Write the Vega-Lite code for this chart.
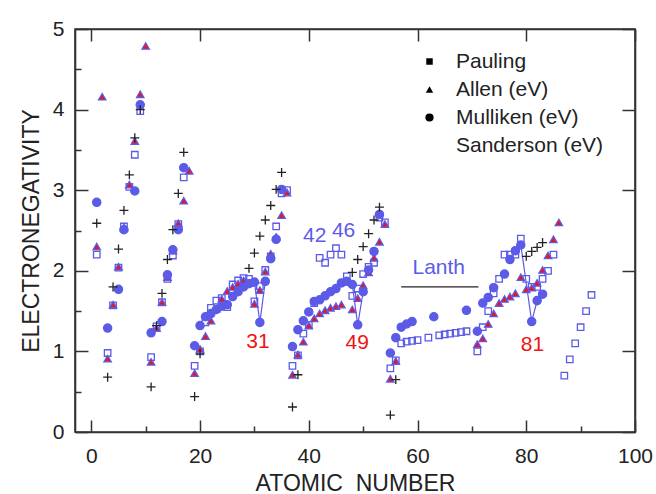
{
  "$schema": "https://vega.github.io/schema/vega-lite/v6.json",
  "width": 560,
  "height": 403,
  "autosize": {"type": "none"},
  "padding": {"left": 75, "top": 29, "right": 21, "bottom": 62},
  "background": "white",
  "config": {
    "font": "Liberation Sans",
    "style": {"cell": {"stroke": "#333", "strokeWidth": 1.6}},
    "axis": {"grid": false, "tickColor": "#333", "tickWidth": 1.5, "domainColor": "#333", "domainWidth": 1.6, "labelColor": "#222", "titleColor": "#222", "titleFontWeight": "normal", "labelFontSize": 21, "titleFontSize": 23, "labelFlush": false},
    "legend": {"labelFontSize": 21, "labelColor": "#222"}
  },
  "datasets": {
    "pts": [
      {"m":"Pauling","z":1,"v":2.2},{"m":"Pauling","z":3,"v":0.98},{"m":"Pauling","z":4,"v":1.57},{"m":"Pauling","z":5,"v":2.04},{"m":"Pauling","z":6,"v":2.55},{"m":"Pauling","z":7,"v":3.04},{"m":"Pauling","z":8,"v":3.44},{"m":"Pauling","z":9,"v":3.98},
      {"m":"Pauling","z":11,"v":0.93},{"m":"Pauling","z":12,"v":1.31},{"m":"Pauling","z":13,"v":1.61},{"m":"Pauling","z":14,"v":1.9},{"m":"Pauling","z":15,"v":2.19},{"m":"Pauling","z":16,"v":2.58},{"m":"Pauling","z":17,"v":3.16},
      {"m":"Pauling","z":19,"v":0.82},{"m":"Pauling","z":20,"v":1.0},{"m":"Pauling","z":21,"v":1.36},{"m":"Pauling","z":22,"v":1.54},{"m":"Pauling","z":23,"v":1.63},{"m":"Pauling","z":24,"v":1.66},{"m":"Pauling","z":25,"v":1.55},{"m":"Pauling","z":26,"v":1.83},{"m":"Pauling","z":27,"v":1.88},{"m":"Pauling","z":28,"v":1.91},{"m":"Pauling","z":29,"v":1.9},{"m":"Pauling","z":30,"v":1.62},{"m":"Pauling","z":31,"v":1.81},{"m":"Pauling","z":32,"v":2.01},{"m":"Pauling","z":33,"v":2.18},{"m":"Pauling","z":34,"v":2.55},{"m":"Pauling","z":35,"v":2.96},{"m":"Pauling","z":36,"v":3.0},
      {"m":"Pauling","z":37,"v":0.82},{"m":"Pauling","z":38,"v":0.95},{"m":"Pauling","z":39,"v":1.22},{"m":"Pauling","z":40,"v":1.33},{"m":"Pauling","z":41,"v":1.6},{"m":"Pauling","z":42,"v":2.16},{"m":"Pauling","z":43,"v":2.1},{"m":"Pauling","z":44,"v":2.2},{"m":"Pauling","z":45,"v":2.28},{"m":"Pauling","z":46,"v":2.2},{"m":"Pauling","z":47,"v":1.93},{"m":"Pauling","z":48,"v":1.69},{"m":"Pauling","z":49,"v":1.78},{"m":"Pauling","z":50,"v":1.96},{"m":"Pauling","z":51,"v":2.05},{"m":"Pauling","z":52,"v":2.1},{"m":"Pauling","z":53,"v":2.66},{"m":"Pauling","z":54,"v":2.6},
      {"m":"Pauling","z":55,"v":0.79},{"m":"Pauling","z":56,"v":0.89},{"m":"Pauling","z":57,"v":1.1},{"m":"Pauling","z":58,"v":1.12},{"m":"Pauling","z":59,"v":1.13},{"m":"Pauling","z":60,"v":1.14},{"m":"Pauling","z":62,"v":1.17},{"m":"Pauling","z":64,"v":1.2},{"m":"Pauling","z":65,"v":1.21},{"m":"Pauling","z":66,"v":1.22},{"m":"Pauling","z":67,"v":1.23},{"m":"Pauling","z":68,"v":1.24},{"m":"Pauling","z":69,"v":1.25},{"m":"Pauling","z":71,"v":1.0},{"m":"Pauling","z":72,"v":1.3},{"m":"Pauling","z":73,"v":1.5},{"m":"Pauling","z":74,"v":1.72},{"m":"Pauling","z":75,"v":1.9},{"m":"Pauling","z":76,"v":2.2},{"m":"Pauling","z":77,"v":2.2},{"m":"Pauling","z":78,"v":2.2},{"m":"Pauling","z":79,"v":2.4},{"m":"Pauling","z":80,"v":1.9},{"m":"Pauling","z":81,"v":1.8},{"m":"Pauling","z":82,"v":1.8},{"m":"Pauling","z":83,"v":1.9},{"m":"Pauling","z":84,"v":2.0},{"m":"Pauling","z":85,"v":2.2},
      {"m":"Pauling","z":87,"v":0.7},{"m":"Pauling","z":88,"v":0.9},{"m":"Pauling","z":89,"v":1.1},{"m":"Pauling","z":90,"v":1.3},{"m":"Pauling","z":91,"v":1.5},{"m":"Pauling","z":92,"v":1.7},

      {"m":"Allen (eV)","z":1,"v":2.3},{"m":"Allen (eV)","z":2,"v":4.16},{"m":"Allen (eV)","z":3,"v":0.91},{"m":"Allen (eV)","z":4,"v":1.58},{"m":"Allen (eV)","z":5,"v":2.05},{"m":"Allen (eV)","z":6,"v":2.54},{"m":"Allen (eV)","z":7,"v":3.07},{"m":"Allen (eV)","z":8,"v":3.61},{"m":"Allen (eV)","z":9,"v":4.19},{"m":"Allen (eV)","z":10,"v":4.79},
      {"m":"Allen (eV)","z":11,"v":0.87},{"m":"Allen (eV)","z":12,"v":1.29},{"m":"Allen (eV)","z":13,"v":1.61},{"m":"Allen (eV)","z":14,"v":1.92},{"m":"Allen (eV)","z":15,"v":2.25},{"m":"Allen (eV)","z":16,"v":2.59},{"m":"Allen (eV)","z":17,"v":2.87},{"m":"Allen (eV)","z":18,"v":3.24},
      {"m":"Allen (eV)","z":19,"v":0.73},{"m":"Allen (eV)","z":20,"v":1.03},{"m":"Allen (eV)","z":21,"v":1.19},{"m":"Allen (eV)","z":22,"v":1.38},{"m":"Allen (eV)","z":23,"v":1.53},{"m":"Allen (eV)","z":24,"v":1.65},{"m":"Allen (eV)","z":25,"v":1.75},{"m":"Allen (eV)","z":26,"v":1.8},{"m":"Allen (eV)","z":27,"v":1.84},{"m":"Allen (eV)","z":28,"v":1.88},{"m":"Allen (eV)","z":29,"v":1.85},{"m":"Allen (eV)","z":30,"v":1.59},{"m":"Allen (eV)","z":31,"v":1.76},{"m":"Allen (eV)","z":32,"v":1.99},{"m":"Allen (eV)","z":33,"v":2.21},{"m":"Allen (eV)","z":34,"v":2.42},{"m":"Allen (eV)","z":35,"v":2.69},{"m":"Allen (eV)","z":36,"v":2.97},
      {"m":"Allen (eV)","z":37,"v":0.71},{"m":"Allen (eV)","z":38,"v":0.96},{"m":"Allen (eV)","z":39,"v":1.12},{"m":"Allen (eV)","z":40,"v":1.32},{"m":"Allen (eV)","z":41,"v":1.41},{"m":"Allen (eV)","z":42,"v":1.47},{"m":"Allen (eV)","z":43,"v":1.51},{"m":"Allen (eV)","z":44,"v":1.54},{"m":"Allen (eV)","z":45,"v":1.56},{"m":"Allen (eV)","z":46,"v":1.58},{"m":"Allen (eV)","z":47,"v":1.87},{"m":"Allen (eV)","z":48,"v":1.52},{"m":"Allen (eV)","z":49,"v":1.66},{"m":"Allen (eV)","z":50,"v":1.82},{"m":"Allen (eV)","z":51,"v":1.98},{"m":"Allen (eV)","z":52,"v":2.16},{"m":"Allen (eV)","z":53,"v":2.36},{"m":"Allen (eV)","z":54,"v":2.58},
      {"m":"Allen (eV)","z":55,"v":0.66},{"m":"Allen (eV)","z":56,"v":0.88},{"m":"Allen (eV)","z":71,"v":1.09},{"m":"Allen (eV)","z":72,"v":1.16},{"m":"Allen (eV)","z":73,"v":1.34},{"m":"Allen (eV)","z":74,"v":1.47},{"m":"Allen (eV)","z":75,"v":1.6},{"m":"Allen (eV)","z":76,"v":1.65},{"m":"Allen (eV)","z":77,"v":1.68},{"m":"Allen (eV)","z":78,"v":1.72},{"m":"Allen (eV)","z":79,"v":1.92},{"m":"Allen (eV)","z":80,"v":1.77},{"m":"Allen (eV)","z":81,"v":1.79},{"m":"Allen (eV)","z":82,"v":1.85},{"m":"Allen (eV)","z":83,"v":2.01},{"m":"Allen (eV)","z":84,"v":2.19},{"m":"Allen (eV)","z":85,"v":2.39},{"m":"Allen (eV)","z":86,"v":2.6},

      {"m":"Mulliken (eV)","z":1,"v":2.85},{"m":"Mulliken (eV)","z":3,"v":1.29},{"m":"Mulliken (eV)","z":5,"v":1.77},{"m":"Mulliken (eV)","z":6,"v":2.51},{"m":"Mulliken (eV)","z":8,"v":2.99},{"m":"Mulliken (eV)","z":9,"v":4.06},
      {"m":"Mulliken (eV)","z":11,"v":1.23},{"m":"Mulliken (eV)","z":13,"v":1.37},{"m":"Mulliken (eV)","z":14,"v":1.95},{"m":"Mulliken (eV)","z":15,"v":2.26},{"m":"Mulliken (eV)","z":16,"v":2.51},{"m":"Mulliken (eV)","z":17,"v":3.28},
      {"m":"Mulliken (eV)","z":19,"v":1.07},{"m":"Mulliken (eV)","z":20,"v":1.32},{"m":"Mulliken (eV)","z":21,"v":1.43},{"m":"Mulliken (eV)","z":22,"v":1.47},{"m":"Mulliken (eV)","z":23,"v":1.52},{"m":"Mulliken (eV)","z":24,"v":1.56},{"m":"Mulliken (eV)","z":25,"v":1.58},{"m":"Mulliken (eV)","z":26,"v":1.68},{"m":"Mulliken (eV)","z":27,"v":1.74},{"m":"Mulliken (eV)","z":28,"v":1.8},{"m":"Mulliken (eV)","z":29,"v":1.84},{"m":"Mulliken (eV)","z":30,"v":1.86},{"m":"Mulliken (eV)","z":31,"v":1.36},{"m":"Mulliken (eV)","z":32,"v":1.87},{"m":"Mulliken (eV)","z":33,"v":2.15},{"m":"Mulliken (eV)","z":34,"v":2.39},{"m":"Mulliken (eV)","z":35,"v":3.01},
      {"m":"Mulliken (eV)","z":37,"v":1.06},{"m":"Mulliken (eV)","z":38,"v":1.27},{"m":"Mulliken (eV)","z":39,"v":1.38},{"m":"Mulliken (eV)","z":40,"v":1.49},{"m":"Mulliken (eV)","z":41,"v":1.62},{"m":"Mulliken (eV)","z":42,"v":1.64},{"m":"Mulliken (eV)","z":43,"v":1.69},{"m":"Mulliken (eV)","z":44,"v":1.74},{"m":"Mulliken (eV)","z":45,"v":1.78},{"m":"Mulliken (eV)","z":46,"v":1.85},{"m":"Mulliken (eV)","z":47,"v":1.87},{"m":"Mulliken (eV)","z":48,"v":1.83},{"m":"Mulliken (eV)","z":49,"v":1.33},{"m":"Mulliken (eV)","z":50,"v":1.74},{"m":"Mulliken (eV)","z":51,"v":2.01},{"m":"Mulliken (eV)","z":52,"v":2.24},{"m":"Mulliken (eV)","z":53,"v":2.7},
      {"m":"Mulliken (eV)","z":55,"v":0.98},{"m":"Mulliken (eV)","z":56,"v":1.17},{"m":"Mulliken (eV)","z":57,"v":1.3},{"m":"Mulliken (eV)","z":58,"v":1.34},{"m":"Mulliken (eV)","z":59,"v":1.37},{"m":"Mulliken (eV)","z":63,"v":1.43},{"m":"Mulliken (eV)","z":69,"v":1.51},{"m":"Mulliken (eV)","z":71,"v":1.25},{"m":"Mulliken (eV)","z":72,"v":1.6},{"m":"Mulliken (eV)","z":73,"v":1.67},{"m":"Mulliken (eV)","z":74,"v":1.79},{"m":"Mulliken (eV)","z":76,"v":1.96},{"m":"Mulliken (eV)","z":77,"v":2.14},{"m":"Mulliken (eV)","z":78,"v":2.25},{"m":"Mulliken (eV)","z":79,"v":2.32},{"m":"Mulliken (eV)","z":81,"v":1.37},{"m":"Mulliken (eV)","z":82,"v":1.63},{"m":"Mulliken (eV)","z":83,"v":1.71},

      {"m":"Sanderson (eV)","z":1,"v":2.59},{"m":"Sanderson (eV)","z":3,"v":0.68},{"m":"Sanderson (eV)","z":4,"v":1.8},{"m":"Sanderson (eV)","z":5,"v":2.27},{"m":"Sanderson (eV)","z":6,"v":2.75},{"m":"Sanderson (eV)","z":7,"v":3.19},{"m":"Sanderson (eV)","z":8,"v":3.65},{"m":"Sanderson (eV)","z":9,"v":4.0},
      {"m":"Sanderson (eV)","z":11,"v":0.56},{"m":"Sanderson (eV)","z":12,"v":1.32},{"m":"Sanderson (eV)","z":13,"v":1.72},{"m":"Sanderson (eV)","z":14,"v":2.14},{"m":"Sanderson (eV)","z":15,"v":2.51},{"m":"Sanderson (eV)","z":16,"v":2.96},{"m":"Sanderson (eV)","z":17,"v":3.47},
      {"m":"Sanderson (eV)","z":19,"v":0.44},{"m":"Sanderson (eV)","z":20,"v":0.97},{"m":"Sanderson (eV)","z":29,"v":2.03},{"m":"Sanderson (eV)","z":30,"v":2.22},{"m":"Sanderson (eV)","z":31,"v":2.43},{"m":"Sanderson (eV)","z":32,"v":2.63},{"m":"Sanderson (eV)","z":33,"v":2.81},{"m":"Sanderson (eV)","z":34,"v":3.01},{"m":"Sanderson (eV)","z":35,"v":3.22},
      {"m":"Sanderson (eV)","z":37,"v":0.31},{"m":"Sanderson (eV)","z":38,"v":0.71},{"m":"Sanderson (eV)","z":48,"v":1.98},{"m":"Sanderson (eV)","z":49,"v":2.14},{"m":"Sanderson (eV)","z":50,"v":2.3},{"m":"Sanderson (eV)","z":51,"v":2.46},{"m":"Sanderson (eV)","z":52,"v":2.63},{"m":"Sanderson (eV)","z":53,"v":2.79},
      {"m":"Sanderson (eV)","z":55,"v":0.21},{"m":"Sanderson (eV)","z":56,"v":0.65},{"m":"Sanderson (eV)","z":80,"v":2.18},{"m":"Sanderson (eV)","z":81,"v":2.24},{"m":"Sanderson (eV)","z":82,"v":2.29},{"m":"Sanderson (eV)","z":83,"v":2.35}
    ],
    "links": [
      {"g":"a","z":30,"v":1.86},{"g":"a","z":31,"v":1.36},{"g":"a","z":32,"v":1.87},
      {"g":"b","z":48,"v":1.83},{"g":"b","z":49,"v":1.33},{"g":"b","z":50,"v":1.74},
      {"g":"c","z":79,"v":2.32},{"g":"c","z":81,"v":1.37},{"g":"c","z":82,"v":1.63},
      {"g":"lanth","z":57,"v":1.8},{"g":"lanth","z":71.2,"v":1.8}
    ],
    "notes": [
      {"k":"gas","t":"He","z":3.3,"v":4.38},{"k":"gas","t":"Ne","z":15.0,"v":4.75},{"k":"gas","t":"Ar","z":21.9,"v":3.21},{"k":"gas","t":"Kr","z":40.2,"v":2.95},{"k":"gas","t":"Xe","z":58.6,"v":2.61},{"k":"gas","t":"Rn","z":90.6,"v":2.64},
      {"k":"dip","t":"31","z":30.65,"v":1.12},{"k":"dip","t":"49","z":48.9,"v":1.1},{"k":"dip","t":"81","z":81.15,"v":1.08},
      {"k":"note","t":"42","z":41.1,"v":2.43},{"k":"note","t":"46","z":46.4,"v":2.5},{"k":"note","t":"Lanth","z":63.9,"v":2.04}
    ]
  },
  "resolve": {"axis": {"x": "independent", "y": "independent"}},
  "layer": [
    {
      "data": {"name": "links"},
      "mark": {"type": "line"},
      "encoding": {
        "x": {"field": "z", "type": "quantitative", "scale": {"domain": [-3, 100], "nice": false, "zero": false},
              "axis": {"orient": "bottom", "domain": false, "values": [10, 30, 50, 70, 90], "tickSize": -6, "labels": false, "title": null}},
        "y": {"field": "v", "type": "quantitative", "scale": {"domain": [0, 5], "nice": false, "zero": false},
              "axis": {"orient": "left", "domain": false, "values": [0.5, 1.5, 2.5, 3.5, 4.5], "tickSize": -6, "labels": false, "title": null}},
        "detail": {"field": "g"},
        "stroke": {"field": "g", "type": "nominal", "legend": null,
                   "scale": {"domain": ["a", "b", "c", "lanth"], "range": ["#5b5be8", "#5b5be8", "#5b5be8", "#222222"]}},
        "strokeWidth": {"field": "g", "type": "nominal", "legend": null,
                        "scale": {"domain": ["a", "b", "c", "lanth"], "range": [1.2, 1.2, 1.2, 2]}}
      }
    },
    {
      "data": {"name": "pts"},
      "mark": {"type": "point", "strokeWidth": 1.3, "opacity": 1},
      "encoding": {
        "x": {"field": "z", "type": "quantitative",
              "axis": {"orient": "bottom", "values": [0, 20, 40, 60, 80, 100], "tickSize": -12, "labelPadding": 25, "title": "ATOMIC\u00a0 NUMBER", "titlePadding": 6}},
        "y": {"field": "v", "type": "quantitative",
              "axis": {"orient": "left", "values": [0, 1, 2, 3, 4, 5], "tickSize": -13, "labelPadding": 24, "title": "ELECTRONEGATIVITY", "titlePadding": 9}},
        "shape": {"field": "m", "type": "nominal", "sort": null,
                  "scale": {"domain": ["Pauling", "Allen (eV)", "Mulliken (eV)", "Sanderson (eV)"], "range": ["square", "triangle-up", "circle", "M-1,0H1M0,-1V1"]},
                  "legend": {"title": null, "orient": "none", "legendX": 344, "legendY": 22, "rowPadding": 6, "labelOffset": 16, "padding": 0}},
        "fill": {"field": "m", "type": "nominal", "sort": null,
                 "scale": {"domain": ["Pauling", "Allen (eV)", "Mulliken (eV)", "Sanderson (eV)"], "range": ["transparent", "#ee1414", "#5b5be8", "transparent"]}},
        "stroke": {"field": "m", "type": "nominal", "sort": null,
                   "scale": {"domain": ["Pauling", "Allen (eV)", "Mulliken (eV)", "Sanderson (eV)"], "range": ["#222222", "#ee1414", "#5b5be8", "#222222"]}},
        "size": {"field": "m", "type": "nominal", "sort": null,
                 "scale": {"domain": ["Pauling", "Allen (eV)", "Mulliken (eV)", "Sanderson (eV)"], "range": [42, 80, 55, 85]}}
      }
    },
    {
      "data": {"name": "notes"},
      "mark": {"type": "text", "fontSize": 21},
      "encoding": {
        "x": {"field": "z", "type": "quantitative",
              "axis": {"orient": "top", "domain": true, "values": [0, 20, 40, 60, 80, 100], "tickSize": -12, "labels": false, "title": null}},
        "y": {"field": "v", "type": "quantitative",
              "axis": {"orient": "right", "domain": true, "values": [0, 1, 2, 3, 4, 5], "tickSize": -13, "labels": false, "title": null}},
        "text": {"field": "t"},
        "fill": {"field": "k", "type": "nominal", "legend": null,
                 "scale": {"domain": ["gas", "dip", "note"], "range": ["#e82828", "#5b5bd8", "#222222"]}}
      }
    }
  ]
}
